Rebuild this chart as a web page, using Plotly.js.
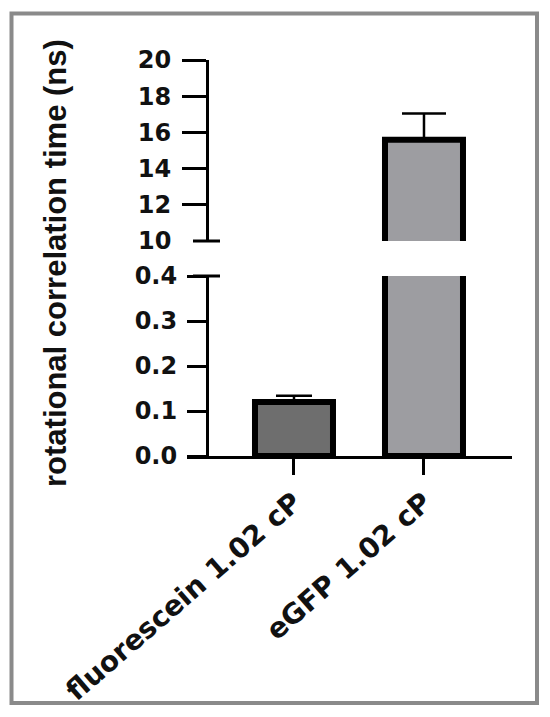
<!DOCTYPE html>
<html>
<head>
<meta charset="utf-8">
<script src="https://cdn.plot.ly/plotly-3.0.1.min.js"></script>
<style>
  html, body { margin: 0; padding: 0; background: #fff; }
  #plot { width: 550px; height: 717px; }
</style>
</head>
<body>
<div id="plot"></div>
<script>
// values
const categories = ["fluorescein 1.02 cP", "eGFP 1.02 cP"];
const means = [0.12, 15.6];
const errPlus = [0.014, 1.45];
const fills = ["#6e6e6e", "#9d9da1"];

const lowTicks = [0, 0.1, 0.2, 0.3, 0.4];
const lowTickText = ["0.0", "0.1", "0.2", "0.3", "0.4"];
const highTicks = [12, 14, 16, 18, 20];

// plot area in pixels: x 187..512, y 60..456
const L = 187, R = 512, T = 60, B = 456;
const px = v => (v - L) / (R - L);
const py = v => (B - v) / (B - T);

const tickFont = { family: "DejaVu Sans", size: 24, color: "#111", weight: "bold" };

const barLine = { color: "#000", width: 6 };

const data = [
  {
    x: [categories[0]],
    y: [means[0]],
    type: "bar",
    width: 0.6,
    marker: { color: fills[0], line: barLine },
    error_y: { type: "data", symmetric: false, array: [errPlus[0]], arrayminus: [0],
               color: "#000", thickness: 2.5, width: 18 },
    xaxis: "x", yaxis: "y",
  },
  {
    x: [categories[1]],
    y: [means[1]],
    type: "bar",
    width: 0.6,
    marker: { color: fills[1], line: barLine },
    xaxis: "x", yaxis: "y",
  },
  {
    x: [categories[1]],
    y: [means[1]],
    type: "bar",
    width: 0.6,
    marker: { color: fills[1], line: barLine },
    error_y: { type: "data", symmetric: false, array: [errPlus[1]], arrayminus: [0],
               color: "#000", thickness: 2.5, width: 22 },
    xaxis: "x", yaxis: "y2",
  },
];

const layout = {
  width: 550,
  height: 717,
  margin: { l: L, r: 550 - R, t: T, b: 717 - B },
  paper_bgcolor: "#fff",
  plot_bgcolor: "rgba(0,0,0,0)",
  showlegend: false,
  barmode: "overlay",
  xaxis: {
    type: "category",
    range: [-0.823, 1.677],
    anchor: "y",
    showline: true, linewidth: 3, linecolor: "#000",
    ticks: "outside", ticklen: 16, tickwidth: 3, tickcolor: "#000",
    tickangle: -41,
    tickfont: { family: "DejaVu Sans", size: 28, color: "#111", weight: "bold" },
    showgrid: false, zeroline: false,
  },
  yaxis: {
    domain: [0, py(276)],
    range: [0, 0.4],
    anchor: "free", position: px(207),
    tickvals: lowTicks, ticktext: lowTickText,
    showline: true, linewidth: 3, linecolor: "#000",
    ticks: "outside", ticklen: 19, tickwidth: 3, tickcolor: "#000",
    ticklabelstandoff: 5,
    tickfont: tickFont,
    showgrid: false, zeroline: false,
  },
  yaxis2: {
    domain: [py(241), 1],
    range: [10, 20],
    anchor: "free", position: px(207),
    tickvals: highTicks,
    showline: true, linewidth: 3, linecolor: "#000",
    ticks: "outside", ticklen: 24, tickwidth: 3, tickcolor: "#000",
    ticklabelstandoff: 6,
    tickfont: tickFont,
    showgrid: false, zeroline: false,
  },
  shapes: [
    // axis break caps
    { type: "line", xref: "paper", yref: "paper", x0: px(193), x1: px(220), y0: py(241), y1: py(241),
      line: { color: "#000", width: 3 } },
    { type: "line", xref: "paper", yref: "paper", x0: px(193), x1: px(220), y0: py(276), y1: py(276),
      line: { color: "#000", width: 3 } },
    // outer frame
    { type: "rect", xref: "paper", yref: "paper", x0: px(11.5), x1: px(537), y0: py(703), y1: py(13.5),
      line: { color: "#8a8a8a", width: 4 } },
  ],
  annotations: [
    { text: "10", xref: "paper", yref: "paper", x: px(173), y: py(241),
      xanchor: "right", yanchor: "middle", showarrow: false, font: tickFont },
    { text: "rotational correlation time (ns)", xref: "paper", yref: "paper",
      x: px(55), y: py(263), textangle: -90, xanchor: "center", yanchor: "middle",
      showarrow: false,
      font: { family: "Liberation Sans", size: 31, color: "#111", weight: "bold" } },
  ],
};

Plotly.newPlot(document.getElementById("plot"), data, layout, { displayModeBar: false, staticPlot: true });
</script>
</body>
</html>
